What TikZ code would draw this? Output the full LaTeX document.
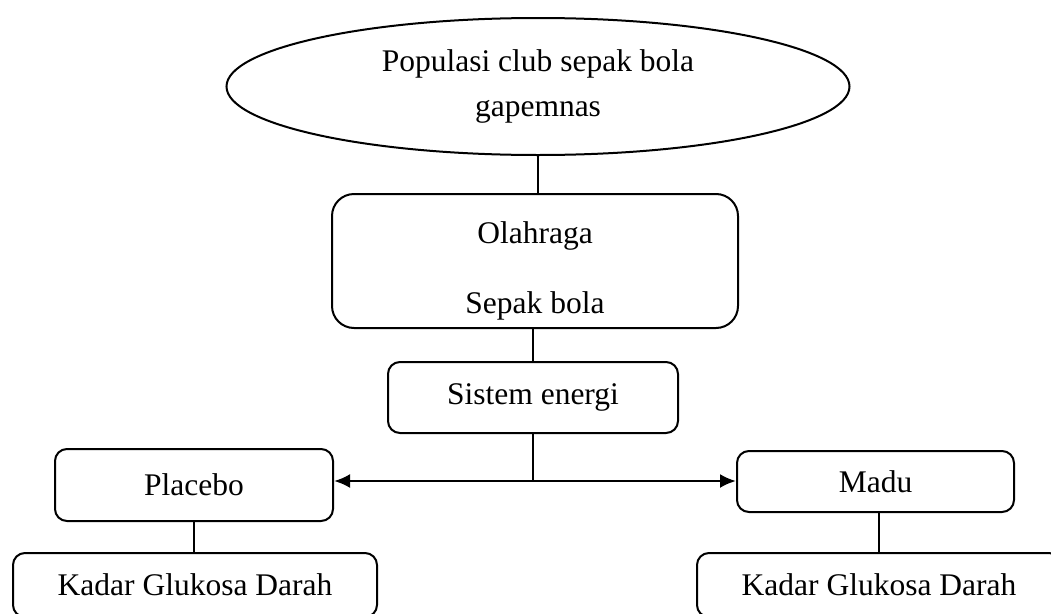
\documentclass[tikz,border=0pt]{standalone}
\usepackage{fontspec}
\setmainfont{Liberation Serif}
\usetikzlibrary{shapes.geometric,arrows.meta}
\begin{document}
\begin{tikzpicture}[x=1pt,y=-1pt,
  txt/.style={font=\fontsize{31.5}{38}\selectfont, align=center, inner sep=0pt},
  box/.style={txt, draw, line width=2pt, rounded corners=12pt},
  link/.style={line width=1.5pt},
  arr/.style={line width=2.5pt, -{Latex[length=16pt,width=14pt]}}]
\useasboundingbox (0,0) rectangle (1051,613);
\node[txt, draw, ellipse, line width=2pt, minimum width=623pt, minimum height=137pt] (pop) at (538,86.5) {Populasi club sepak bola\\[7pt]gapemnas};
\node[box, rounded corners=22pt, minimum width=406pt, minimum height=134pt] (ola) at (535,261) {\rule{0pt}{42pt}Olahraga\\[32pt]Sepak bola};
\node[box, minimum width=290pt, minimum height=71pt] (sis) at (533,397.5) {Sistem energi};
\node[box, minimum width=278pt, minimum height=72pt] (pla) at (194,485) {Placebo};
\node[box, minimum width=277pt, minimum height=61pt] (madu) at (875.5,481.5) {Madu};
\node[box, minimum width=364pt, minimum height=64pt] (k1) at (195,585) {Kadar Glukosa Darah};
\node[box, minimum width=364pt, minimum height=64pt] (k2) at (879,585) {Kadar Glukosa Darah};
\coordinate (j) at (533,481);
\draw[link] (pop.south) -- (pop.south |- ola.north);
\draw[link] (sis.north) -- (sis.north |- ola.south);
\draw[link] (sis.south) -- (j);
\draw[arr] (j) -- (j -| pla.east);
\draw[arr] (j) -- (j -| madu.west);
\draw[link] (pla.south) -- (pla.south |- k1.north);
\draw[link] (k2.north) -- (k2.north |- madu.south);
\end{tikzpicture}
\end{document}
